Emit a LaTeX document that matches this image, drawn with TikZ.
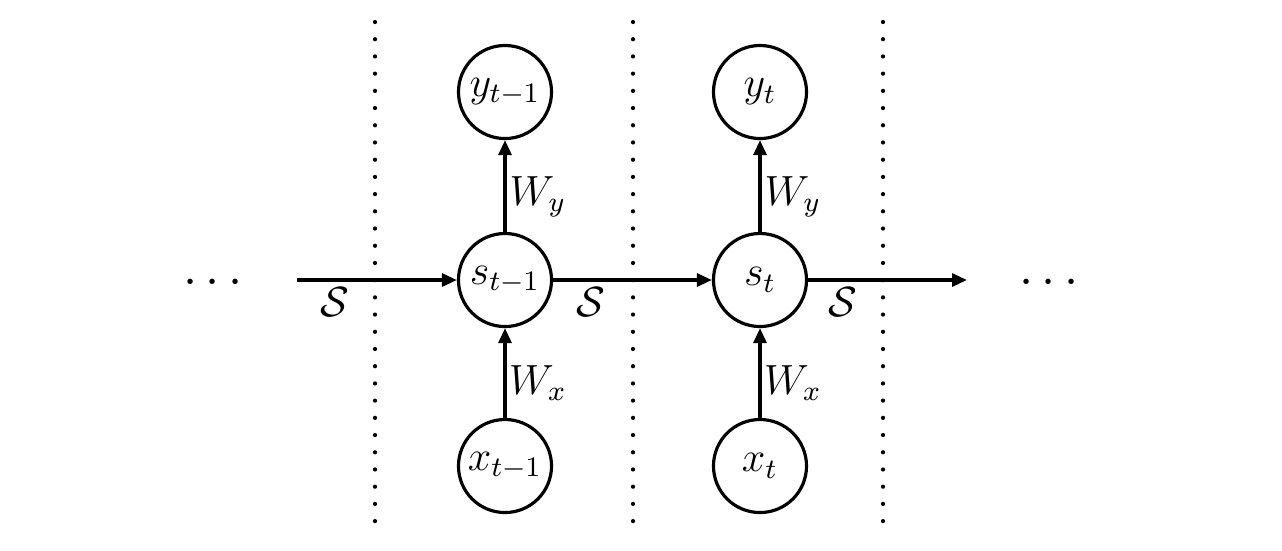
\documentclass[tikz,border=0pt]{standalone}
\usetikzlibrary{arrows.meta}
\begin{document}
\begin{tikzpicture}[x=0.01cm,y=-0.01cm,
  unit/.style={circle,draw,line width=0.9pt,minimum size=0.93cm,inner sep=0pt,font=\fontsize{12}{14}\selectfont},
  arr/.style={line width=0.9pt,-{Triangle[length=0.15cm,width=0.13cm]}},
  sep/.style={line width=1.2pt,dash pattern=on 0pt off 0.172cm,line cap=round},
  lbl/.style={font=\fontsize{11.5}{14}\selectfont,inner sep=0pt},
  dotsn/.style={font=\fontsize{15}{18}\selectfont,inner sep=0pt}]
\useasboundingbox (0,0) rectangle (1282,550);
% dotted separators
\coordinate (d1t) at (375,22); \coordinate (d1b) at (375,530);
\coordinate (d2t) at (633,22); \coordinate (d2b) at (633,530);
\coordinate (d3t) at (883,22); \coordinate (d3b) at (883,530);
\draw[sep] (d1t) -- (d1b);
\draw[sep] (d2t) -- (d2b);
\draw[sep] (d3t) -- (d3b);
% nodes
\node[unit] (y1) at (505,92) {$y_{t-1}$};
\node[unit] (s1) at (505,280) {$s_{t-1}$};
\node[unit] (x1) at (505,466) {$x_{t-1}$};
\node[unit] (y2) at (760,92) {$y_t$};
\node[unit] (s2) at (760,280) {$s_t$};
\node[unit] (x2) at (760,466) {$x_t$};
\coordinate (in) at (297,280);
\coordinate (out) at (967,280);
% connectors
\draw[arr] (in) -- (s1);
\draw[arr] (s1) -- (s2);
\draw[arr] (s2) -- (out);
\draw[arr] (x1) -- (s1);
\draw[arr] (s1) -- (y1);
\draw[arr] (x2) -- (s2);
\draw[arr] (s2) -- (y2);
% labels
\node[lbl] (l1) at (335,302) {$\mathcal{S}$};
\node[lbl] (l2) at (591,302) {$\mathcal{S}$};
\node[lbl] (l3) at (843,302) {$\mathcal{S}$};
\node[lbl] (wy1) at (538,197) {$W_y$};
\node[lbl] (wx1) at (538,383) {$W_x$};
\node[lbl] (wy2) at (793,197) {$W_y$};
\node[lbl] (wx2) at (793,383) {$W_x$};
\node[dotsn] (dl) at (213,283) {$\cdots$};
\node[dotsn] (dr) at (1049,283) {$\cdots$};
\end{tikzpicture}
\end{document}
